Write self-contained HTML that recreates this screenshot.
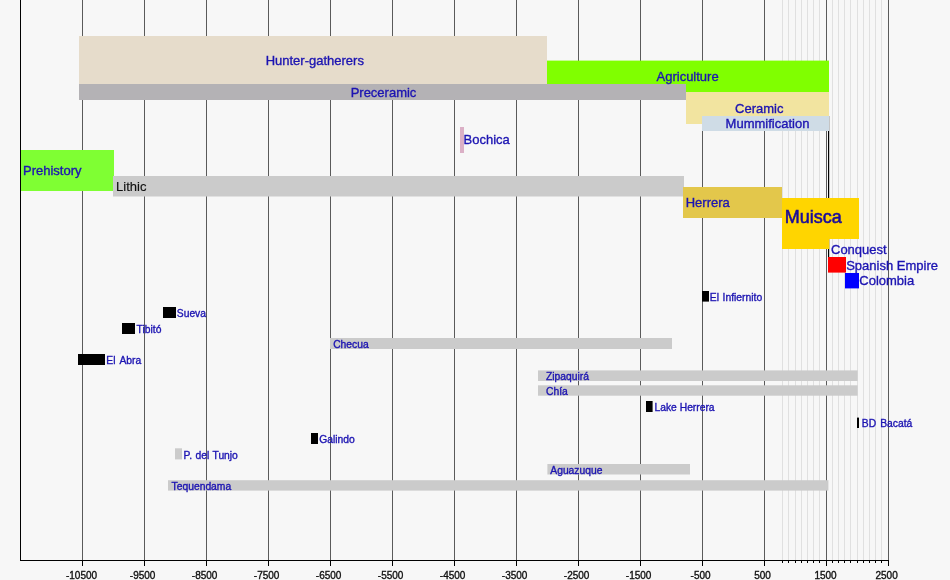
<!DOCTYPE html>
<html><head><meta charset="utf-8"><title>Muisca timeline</title>
<style>
html,body{margin:0;padding:0;background:#f7f7f7;width:950px;height:580px;overflow:hidden;}
svg{display:block;font-family:"Liberation Sans",sans-serif;will-change:transform;}
</style></head><body>
<svg width="950" height="580" viewBox="0 0 950 580">
<rect x="0" y="0" width="950" height="580" fill="#f7f7f7"/>
<g><rect x="782" y="0" width="1" height="560" fill="#e0e0e0"/><rect x="788" y="0" width="1" height="560" fill="#e0e0e0"/><rect x="795" y="0" width="1" height="560" fill="#e0e0e0"/><rect x="801" y="0" width="1" height="560" fill="#e0e0e0"/><rect x="807" y="0" width="1" height="560" fill="#e0e0e0"/><rect x="813" y="0" width="1" height="560" fill="#e0e0e0"/><rect x="819" y="0" width="1" height="560" fill="#e0e0e0"/><rect x="832" y="0" width="1" height="560" fill="#e0e0e0"/><rect x="838" y="0" width="1" height="560" fill="#e0e0e0"/><rect x="844" y="0" width="1" height="560" fill="#e0e0e0"/><rect x="850" y="0" width="1" height="560" fill="#e0e0e0"/><rect x="857" y="0" width="1" height="560" fill="#e0e0e0"/><rect x="863" y="0" width="1" height="560" fill="#e0e0e0"/><rect x="869" y="0" width="1" height="560" fill="#e0e0e0"/><rect x="875" y="0" width="1" height="560" fill="#e0e0e0"/><rect x="881" y="0" width="1" height="560" fill="#e0e0e0"/></g>
<g><rect x="82" y="0" width="1" height="560" fill="#5a5a5a"/><rect x="144" y="0" width="1" height="560" fill="#5a5a5a"/><rect x="206" y="0" width="1" height="560" fill="#5a5a5a"/><rect x="268" y="0" width="1" height="560" fill="#5a5a5a"/><rect x="330" y="0" width="1" height="560" fill="#5a5a5a"/><rect x="392" y="0" width="1" height="560" fill="#5a5a5a"/><rect x="454" y="0" width="1" height="560" fill="#5a5a5a"/><rect x="516" y="0" width="1" height="560" fill="#5a5a5a"/><rect x="578" y="0" width="1" height="560" fill="#5a5a5a"/><rect x="640" y="0" width="1" height="560" fill="#5a5a5a"/><rect x="702" y="0" width="1" height="560" fill="#5a5a5a"/><rect x="764" y="0" width="1" height="560" fill="#5a5a5a"/><rect x="826" y="0" width="1" height="560" fill="#5a5a5a"/><rect x="888" y="0" width="1" height="560" fill="#5a5a5a"/></g>
<rect x="828.0" y="116.0" width="1.2" height="141.0" fill="#000000"/>
<rect x="79.0" y="36.0" width="468.0" height="56.0" fill="#e6dccb"/>
<rect x="547.0" y="60.6" width="282.0" height="31.4" fill="#80ff00"/>
<rect x="79.0" y="84.0" width="607.0" height="16.0" fill="#b4b2b5"/>
<rect x="686.0" y="92.0" width="143.0" height="32.0" fill="#f2e4a0"/>
<rect x="702.0" y="116.0" width="127.0" height="15.0" fill="#cfdce6"/>
<rect x="460.0" y="127.0" width="4.0" height="26.0" fill="#dbb0c6"/>
<rect x="21.0" y="150.0" width="93.0" height="41.0" fill="#7fff33"/>
<rect x="113.0" y="176.0" width="571.0" height="20.5" fill="#cbcbcb"/>
<rect x="683.0" y="187.0" width="99.0" height="31.0" fill="#e3c74b"/>
<rect x="782.0" y="198.0" width="77.0" height="41.0" fill="#ffd500"/>
<rect x="782.0" y="238.0" width="47.3" height="11.0" fill="#ffd500"/>
<rect x="828.0" y="257.0" width="18.0" height="15.6" fill="#ff0000"/>
<rect x="845.0" y="273.0" width="14.0" height="15.4" fill="#0000ff"/>
<rect x="702.0" y="291.0" width="7.0" height="10.6" fill="#000000"/>
<rect x="163.0" y="307.0" width="13.0" height="11.0" fill="#000000"/>
<rect x="122.0" y="323.0" width="13.0" height="11.0" fill="#000000"/>
<rect x="330.0" y="338.0" width="342.0" height="11.0" fill="#cbcbcb"/>
<rect x="78.0" y="354.0" width="27.0" height="11.0" fill="#000000"/>
<rect x="538.0" y="370.4" width="319.6" height="10.6" fill="#cbcbcb"/>
<rect x="538.0" y="385.3" width="319.6" height="10.4" fill="#cbcbcb"/>
<rect x="646.0" y="401.0" width="6.6" height="11.0" fill="#000000"/>
<rect x="857.0" y="417.6" width="2.0" height="10.4" fill="#000000"/>
<rect x="311.0" y="433.0" width="7.0" height="11.0" fill="#000000"/>
<rect x="175.0" y="448.3" width="7.0" height="11.1" fill="#cbcbcb"/>
<rect x="547.4" y="464.0" width="142.6" height="10.5" fill="#cbcbcb"/>
<rect x="168.0" y="480.2" width="660.4" height="10.4" fill="#cbcbcb"/>
<text x="314.8" y="64.9" font-size="13" fill="#1c14b2" stroke="#1c14b2" stroke-width="0.35" text-anchor="middle">Hunter-gatherers</text>
<text x="687.6" y="81.0" font-size="13" fill="#1c14b2" stroke="#1c14b2" stroke-width="0.35" text-anchor="middle">Agriculture</text>
<text x="383.5" y="96.7" font-size="13" fill="#1c14b2" stroke="#1c14b2" stroke-width="0.35" text-anchor="middle">Preceramic</text>
<text x="759.3" y="112.6" font-size="13" fill="#1c14b2" stroke="#1c14b2" stroke-width="0.35" text-anchor="middle">Ceramic</text>
<text x="767.5" y="127.8" font-size="13" fill="#1c14b2" stroke="#1c14b2" stroke-width="0.35" text-anchor="middle">Mummification</text>
<text x="463.5" y="143.7" font-size="13" fill="#1c14b2" stroke="#1c14b2" stroke-width="0.35" text-anchor="start">Bochica</text>
<text x="23.0" y="174.7" font-size="13" fill="#1c14b2" stroke="#1c14b2" stroke-width="0.35" text-anchor="start">Prehistory</text>
<text x="116.1" y="190.8" font-size="13" fill="#111111" stroke="#111111" stroke-width="0.15" text-anchor="start">Lithic</text>
<text x="685.7" y="207.0" font-size="13" fill="#1c14b2" stroke="#1c14b2" stroke-width="0.35" text-anchor="start">Herrera</text>
<text x="784.7" y="223.1" font-size="18" fill="#1a0c9c" stroke="#1a0c9c" stroke-width="0.55" text-anchor="start">Muisca</text>
<text x="831.0" y="253.6" font-size="13" fill="#1c14b2" stroke="#1c14b2" stroke-width="0.35" text-anchor="start">Conquest</text>
<text x="846.2" y="269.7" font-size="13" fill="#1c14b2" stroke="#1c14b2" stroke-width="0.35" text-anchor="start">Spanish Empire</text>
<text x="859.3" y="284.8" font-size="13" fill="#1c14b2" stroke="#1c14b2" stroke-width="0.35" text-anchor="start">Colombia</text>
<text x="709.8" y="300.7" font-size="10.3" fill="#1c14b2" stroke="#1c14b2" stroke-width="0.35" text-anchor="start" word-spacing="0.8">El Infiernito</text>
<text x="176.8" y="317.0" font-size="10.3" fill="#1c14b2" stroke="#1c14b2" stroke-width="0.35" text-anchor="start">Sueva</text>
<text x="136.6" y="333.0" font-size="10.3" fill="#1c14b2" stroke="#1c14b2" stroke-width="0.35" text-anchor="start">Tibitó</text>
<text x="333.2" y="347.7" font-size="10.3" fill="#1c14b2" stroke="#1c14b2" stroke-width="0.35" text-anchor="start">Checua</text>
<text x="106.3" y="363.8" font-size="10.3" fill="#1c14b2" stroke="#1c14b2" stroke-width="0.35" text-anchor="start" word-spacing="1.7">El Abra</text>
<text x="546.0" y="379.5" font-size="10.3" fill="#1c14b2" stroke="#1c14b2" stroke-width="0.35" text-anchor="start">Zipaquirá</text>
<text x="546.0" y="395.0" font-size="10.3" fill="#1c14b2" stroke="#1c14b2" stroke-width="0.35" text-anchor="start">Chía</text>
<text x="654.5" y="411.0" font-size="10.3" fill="#1c14b2" stroke="#1c14b2" stroke-width="0.35" text-anchor="start">Lake Herrera</text>
<text x="861.8" y="427.1" font-size="10.3" fill="#1c14b2" stroke="#1c14b2" stroke-width="0.35" text-anchor="start" word-spacing="1.2">BD Bacatá</text>
<text x="319.3" y="443.2" font-size="10.3" fill="#1c14b2" stroke="#1c14b2" stroke-width="0.35" text-anchor="start">Galindo</text>
<text x="183.6" y="458.5" font-size="10.3" fill="#1c14b2" stroke="#1c14b2" stroke-width="0.35" text-anchor="start" word-spacing="0.6">P. del Tunjo</text>
<text x="550.3" y="473.8" font-size="10.3" fill="#1c14b2" stroke="#1c14b2" stroke-width="0.35" text-anchor="start">Aguazuque</text>
<text x="171.6" y="489.5" font-size="10.3" fill="#1c14b2" stroke="#1c14b2" stroke-width="0.35" text-anchor="start">Tequendama</text>
<rect x="20.0" y="0.0" width="1.0" height="561.0" fill="#000000"/>
<rect x="20.0" y="560.0" width="869.0" height="1.0" fill="#000000"/>
<g><rect x="82" y="561" width="1" height="5" fill="#000"/><rect x="144" y="561" width="1" height="5" fill="#000"/><rect x="206" y="561" width="1" height="5" fill="#000"/><rect x="268" y="561" width="1" height="5" fill="#000"/><rect x="330" y="561" width="1" height="5" fill="#000"/><rect x="392" y="561" width="1" height="5" fill="#000"/><rect x="454" y="561" width="1" height="5" fill="#000"/><rect x="516" y="561" width="1" height="5" fill="#000"/><rect x="578" y="561" width="1" height="5" fill="#000"/><rect x="640" y="561" width="1" height="5" fill="#000"/><rect x="702" y="561" width="1" height="5" fill="#000"/><rect x="764" y="561" width="1" height="5" fill="#000"/><rect x="826" y="561" width="1" height="5" fill="#000"/><rect x="888" y="561" width="1" height="5" fill="#000"/><rect x="782" y="561" width="1" height="2" fill="#000"/><rect x="788" y="561" width="1" height="2" fill="#000"/><rect x="795" y="561" width="1" height="2" fill="#000"/><rect x="801" y="561" width="1" height="2" fill="#000"/><rect x="807" y="561" width="1" height="2" fill="#000"/><rect x="813" y="561" width="1" height="2" fill="#000"/><rect x="819" y="561" width="1" height="2" fill="#000"/><rect x="832" y="561" width="1" height="2" fill="#000"/><rect x="838" y="561" width="1" height="2" fill="#000"/><rect x="844" y="561" width="1" height="2" fill="#000"/><rect x="850" y="561" width="1" height="2" fill="#000"/><rect x="857" y="561" width="1" height="2" fill="#000"/><rect x="863" y="561" width="1" height="2" fill="#000"/><rect x="869" y="561" width="1" height="2" fill="#000"/><rect x="875" y="561" width="1" height="2" fill="#000"/><rect x="881" y="561" width="1" height="2" fill="#000"/></g>
<text x="81.5" y="578.5" font-size="10" fill="#111111" stroke="#111111" stroke-width="0.35" text-anchor="middle">-10500</text>
<text x="142.6" y="578.5" font-size="10" fill="#111111" stroke="#111111" stroke-width="0.35" text-anchor="middle">-9500</text>
<text x="204.6" y="578.5" font-size="10" fill="#111111" stroke="#111111" stroke-width="0.35" text-anchor="middle">-8500</text>
<text x="266.6" y="578.5" font-size="10" fill="#111111" stroke="#111111" stroke-width="0.35" text-anchor="middle">-7500</text>
<text x="328.6" y="578.5" font-size="10" fill="#111111" stroke="#111111" stroke-width="0.35" text-anchor="middle">-6500</text>
<text x="390.6" y="578.5" font-size="10" fill="#111111" stroke="#111111" stroke-width="0.35" text-anchor="middle">-5500</text>
<text x="452.6" y="578.5" font-size="10" fill="#111111" stroke="#111111" stroke-width="0.35" text-anchor="middle">-4500</text>
<text x="514.6" y="578.5" font-size="10" fill="#111111" stroke="#111111" stroke-width="0.35" text-anchor="middle">-3500</text>
<text x="576.6" y="578.5" font-size="10" fill="#111111" stroke="#111111" stroke-width="0.35" text-anchor="middle">-2500</text>
<text x="638.6" y="578.5" font-size="10" fill="#111111" stroke="#111111" stroke-width="0.35" text-anchor="middle">-1500</text>
<text x="700.6" y="578.5" font-size="10" fill="#111111" stroke="#111111" stroke-width="0.35" text-anchor="middle">-500</text>
<text x="762.6" y="578.5" font-size="10" fill="#111111" stroke="#111111" stroke-width="0.35" text-anchor="middle">500</text>
<text x="825.5" y="578.5" font-size="10" fill="#111111" stroke="#111111" stroke-width="0.35" text-anchor="middle">1500</text>
<text x="886.6" y="578.5" font-size="10" fill="#111111" stroke="#111111" stroke-width="0.35" text-anchor="middle">2500</text>
</svg>
</body></html>
